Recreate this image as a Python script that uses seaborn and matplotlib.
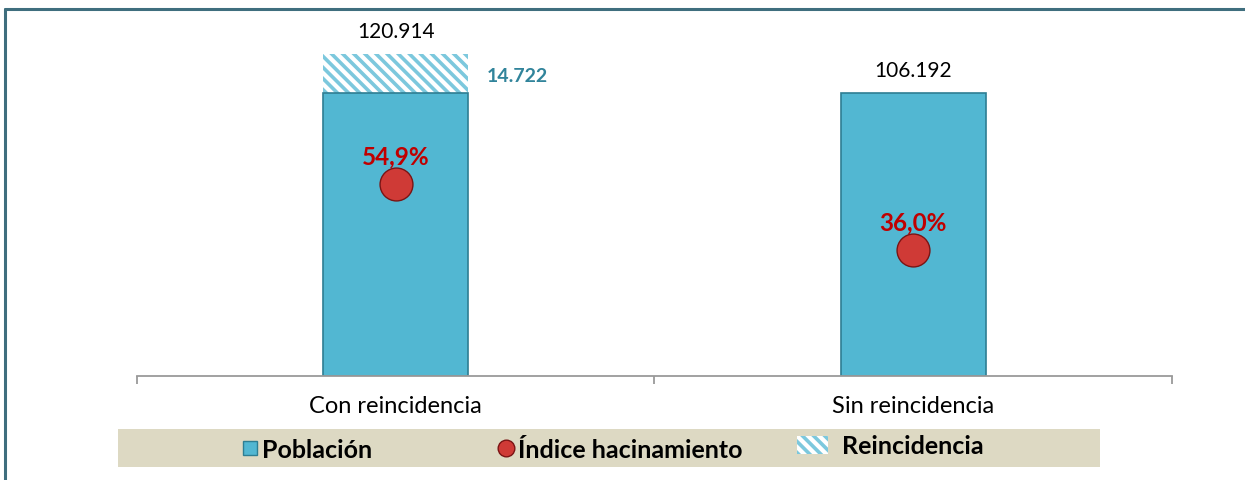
import matplotlib
matplotlib.use("Agg")
import matplotlib.pyplot as plt
import pandas as pd
import seaborn as sns
from matplotlib.patches import Rectangle
from matplotlib.lines import Line2D

# datos
categorias = ["Con reincidencia", "Sin reincidencia"]
poblacion = [106192, 106192]
reincidencia = [14722, 0]
hacinamiento = [0.549, 0.360]
totales = ["120.914", "106.192"]
etiquetas_hac = ["54,9%", "36,0%"]
etiqueta_reinc = "14.722"

azul = "#52B7D2"
azul_borde = "#2E7E93"
rojo = "#CF3A36"
teal_txt = "#31849B"
rayas = "#7CC8DD"

df = pd.DataFrame({"cat": categorias, "pob": poblacion,
                   "total": [p + r for p, r in zip(poblacion, reincidencia)],
                   "hac": hacinamiento})

sns.set_style("white")
plt.rcParams["font.family"] = ["Lato", "DejaVu Sans"]
plt.rcParams["hatch.linewidth"] = 2.6
plt.rcParams["text.color"] = "black"

fig = plt.figure(figsize=(12.45, 4.81), dpi=100)
ax = fig.add_axes([0.110, 0.2162, 0.8313, 0.7422])

# barra total rayada (reincidencia)
sns.barplot(data=df, x="cat", y="total", ax=ax, width=0.28, color="white",
            linewidth=0, hatch="\\\\\\", saturation=1)
for p in ax.patches:
    p.set_edgecolor(rayas)
# barra poblacion
sns.barplot(data=df, x="cat", y="pob", ax=ax, width=0.28, color=azul,
            edgecolor=azul_borde, linewidth=1.2, saturation=1)

ax.set_xlim(-0.5, 1.5)
ax.set_ylim(0, 134000)
ax.set_xlabel("")
ax.set_ylabel("")
ax.set_yticks([])
for s in ["left", "right", "top"]:
    ax.spines[s].set_visible(False)
ax.spines["bottom"].set_color("#9A9A9A")
ax.spines["bottom"].set_linewidth(1.3)
ax.set_xticks([-0.5, 0.5, 1.5], minor=True)
ax.tick_params(axis="x", which="minor", bottom=True, length=6, color="#9A9A9A", width=1.3)
ax.tick_params(axis="x", which="major", length=0, labelsize=17, pad=14, labelcolor="black")

for i, (t, tot) in enumerate(zip(totales, df["total"])):
    ax.text(i, tot + 5000, t, ha="center", va="bottom", fontsize=15, color="black")
ax.text(0.176, poblacion[0] + reincidencia[0] * 0.45, etiqueta_reinc, ha="left",
        va="center", fontsize=14, fontweight="bold", color=teal_txt)

# eje secundario: indice de hacinamiento
ax2 = ax.twinx()
ax2.set_ylim(0, 1.023)
ax2.axis("off")
sns.scatterplot(data=df, x="cat", y="hac", ax=ax2, s=560, color=rojo,
                edgecolor="#7A1414", linewidth=1.0, zorder=5, legend=False)
ax2.set_xlim(-0.5, 1.5)
for i, (v, lab) in enumerate(zip(hacinamiento, etiquetas_hac)):
    ax2.text(i, v + 0.05, lab, ha="center", va="bottom", fontsize=17.5,
             fontweight="bold", color="#C00000")

# leyenda
fig.patches.append(Rectangle((118 / 1245, 1 - 468 / 481), 982 / 1245, 38 / 481,
                             transform=fig.transFigure, facecolor="#DDD9C3",
                             edgecolor="none", zorder=0))
items = [
    (Line2D([], [], marker="s", ls="none", markersize=10, markerfacecolor=azul,
            markeredgecolor=azul_borde), "Población", 240, 450, 0.8, 0.1),
    (Line2D([], [], marker="o", ls="none", markersize=12, markerfacecolor=rojo,
            markeredgecolor="#7A1414"), "Índice hacinamiento", 496, 450, 0.8, 0.1),
    (Rectangle((0, 0), 1, 1, facecolor="white", edgecolor=rayas, hatch="\\\\\\",
               linewidth=0), "Reincidencia", 797, 447, 1.24, 0.55),
]
for h, lab, px, py, hl, tp in items:
    fig.legend([h], [lab], loc="center left", bbox_to_anchor=(px / 1245, 1 - py / 481),
               frameon=False, prop={"weight": "bold", "size": 18},
               handlelength=hl, handletextpad=tp, borderpad=0, borderaxespad=0,
               handleheight=0.75)

# marco
fig.add_artist(Line2D([5 / 1245, 1], [1 - 9.5 / 481] * 2, transform=fig.transFigure,
                      color="#3F6E7E", lw=2.2))
fig.add_artist(Line2D([5.5 / 1245] * 2, [0, 1 - 9.5 / 481], transform=fig.transFigure,
                      color="#3F6E7E", lw=2.2))

fig.savefig("out.png", dpi=100)
